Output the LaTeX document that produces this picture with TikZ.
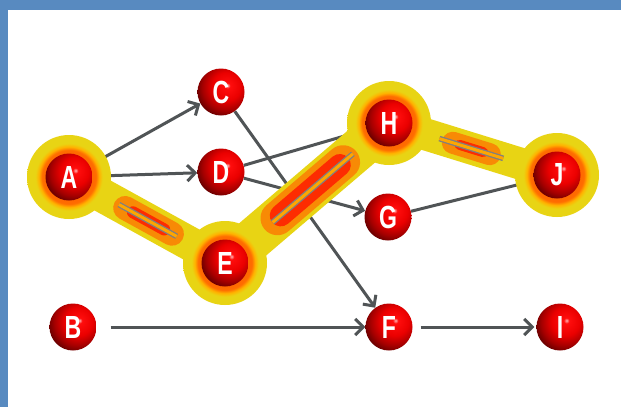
\documentclass[tikz,border=0pt]{standalone}
\usepackage{fontspec}
\setsansfont{Liberation Sans}
\usetikzlibrary{arrows.meta,calc}
\pgfdeclarelayer{framelayer}
\pgfdeclarelayer{arrowlayer}
\pgfdeclarelayer{bandlayer}
\pgfdeclarelayer{halolayer}
\pgfdeclarelayer{glowlayer}
\pgfsetlayers{framelayer,arrowlayer,bandlayer,halolayer,glowlayer,main}
\definecolor{frameblue}{RGB}{88,138,192}
\definecolor{bandyellow}{RGB}{232,212,20}
\definecolor{arrowgray}{RGB}{80,84,86}
\pgfdeclareradialshading{redball}{\pgfpoint{7bp}{7bp}}{%
  color(0bp)=(red!30!white); color(3bp)=(red!95!white); color(15bp)=(red!92!black);
  color(25bp)=(red!65!black); color(32bp)=(red!40!black); color(100bp)=(red!40!black)}
\pgfdeclareradialshading{halo}{\pgfpoint{0bp}{0bp}}{%
  color(0bp)=(orange!60!red); color(16bp)=(orange!85!red); color(18bp)=(orange!60!yellow);
  color(20bp)=(bandyellow); color(26bp)=(bandyellow); color(29bp)=(yellow!40!white); color(100bp)=(yellow!40!white)}
\begin{document}
\begin{tikzpicture}[x=1pt,y=-1pt,
  ball/.style={circle, minimum size=47pt, inner sep=0pt, shading=redball, text=white,
    font=\fontsize{32}{32}\sffamily\bfseries},
  halocirc/.style={circle, minimum size=84pt, inner sep=0pt, shading=halo},
  arr/.style={draw=arrowgray, line width=3pt, -{Straight Barb[length=8pt,width=16pt,line width=3pt]}},
  plainline/.style={draw=arrowgray, line width=3pt},
  band/.style={draw=bandyellow, line width=34pt, line cap=round},
  glowo/.style={draw=orange!85!red, line width=24pt, line cap=round, opacity=0.7},
  glowr/.style={draw=red!90!orange, line width=12pt, line cap=round, opacity=0.75},
  dbl/.style={draw=black!50, line width=1.3pt, double=orange!70!yellow, double distance=3pt}
]
\useasboundingbox (0,0) rectangle (621,407);
\begin{pgfonlayer}{framelayer}
  \fill[frameblue] (0,0) rectangle (621,407);
  \fill[white] (8,10) rectangle (621,407);
\end{pgfonlayer}

% balls
\node[ball] (A) at (69,177) {\scalebox{0.72}[1]{A}};
\node[ball] (C) at (221,92) {\scalebox{0.72}[1]{C}};
\node[ball] (D) at (221,172) {\scalebox{0.72}[1]{D}};
\node[ball] (E) at (225,263) {\scalebox{0.72}[1]{E}};
\node[ball] (H) at (389,123) {\scalebox{0.72}[1]{H}};
\node[ball] (G) at (388,217) {\scalebox{0.72}[1]{G}};
\node[ball] (J) at (557,175) {\scalebox{0.72}[1]{J}};
\node[ball] (B) at (73,327) {\scalebox{0.72}[1]{B}};
\node[ball] (F) at (389,327) {\scalebox{0.72}[1]{F}};
\node[ball] (I) at (560,327) {\scalebox{0.72}[1]{I}};

\begin{pgfonlayer}{arrowlayer}
  \draw[arr] (A) -- (C);
  \draw[arr] (A) -- (D);
  \draw[arr] (D) -- (G);
  \draw[arr] (C) -- (F);
  \draw[plainline] (D) -- (H);
  \draw[plainline] (G) -- (J);
  \draw[arr, shorten <=14pt] (B) -- (F);
  \draw[arr, shorten <=8pt, shorten >=2pt] (F) -- (I);
\end{pgfonlayer}

\begin{pgfonlayer}{bandlayer}
  \draw[band] (A.center) -- (E.center);
  \draw[band, line width=42pt] (E.center) -- (H.center);
  \draw[band, line width=32pt] (H.center) -- (J.center);
\end{pgfonlayer}

\begin{pgfonlayer}{halolayer}
  \node[halocirc] (hA) at (A) {};
  \node[halocirc] (hE) at (E) {};
  \node[halocirc] (hH) at (H) {};
  \node[halocirc] (hJ) at (J) {};
\end{pgfonlayer}

\begin{pgfonlayer}{glowlayer}
  \draw[glowo] ($(A)!0.36!(E)$) -- ($(A)!0.66!(E)$);
  \draw[glowr] ($(A)!0.41!(E)$) -- ($(A)!0.61!(E)$);
  \draw[glowo, line width=34pt] ($(E)!0.32!(H)$) -- ($(E)!0.72!(H)$);
  \draw[glowr, line width=22pt] ($(E)!0.34!(H)$) -- ($(E)!0.70!(H)$);
  \draw[glowo, line width=22pt] ($(H)!0.38!(J)$) -- ($(H)!0.60!(J)$);
  \draw[glowr, line width=10pt] ($(H)!0.42!(J)$) -- ($(H)!0.56!(J)$);
  \draw[dbl] ($(A)!0.32!(E)$) -- ($(A)!0.69!(E)$);
  \draw[dbl] ($(E)!0.29!(H)$) -- ($(E)!0.78!(H)$);
  \draw[dbl] ($(H)!0.30!(J)$) -- ($(H)!0.68!(J)$);
\end{pgfonlayer}
\end{tikzpicture}
\end{document}
